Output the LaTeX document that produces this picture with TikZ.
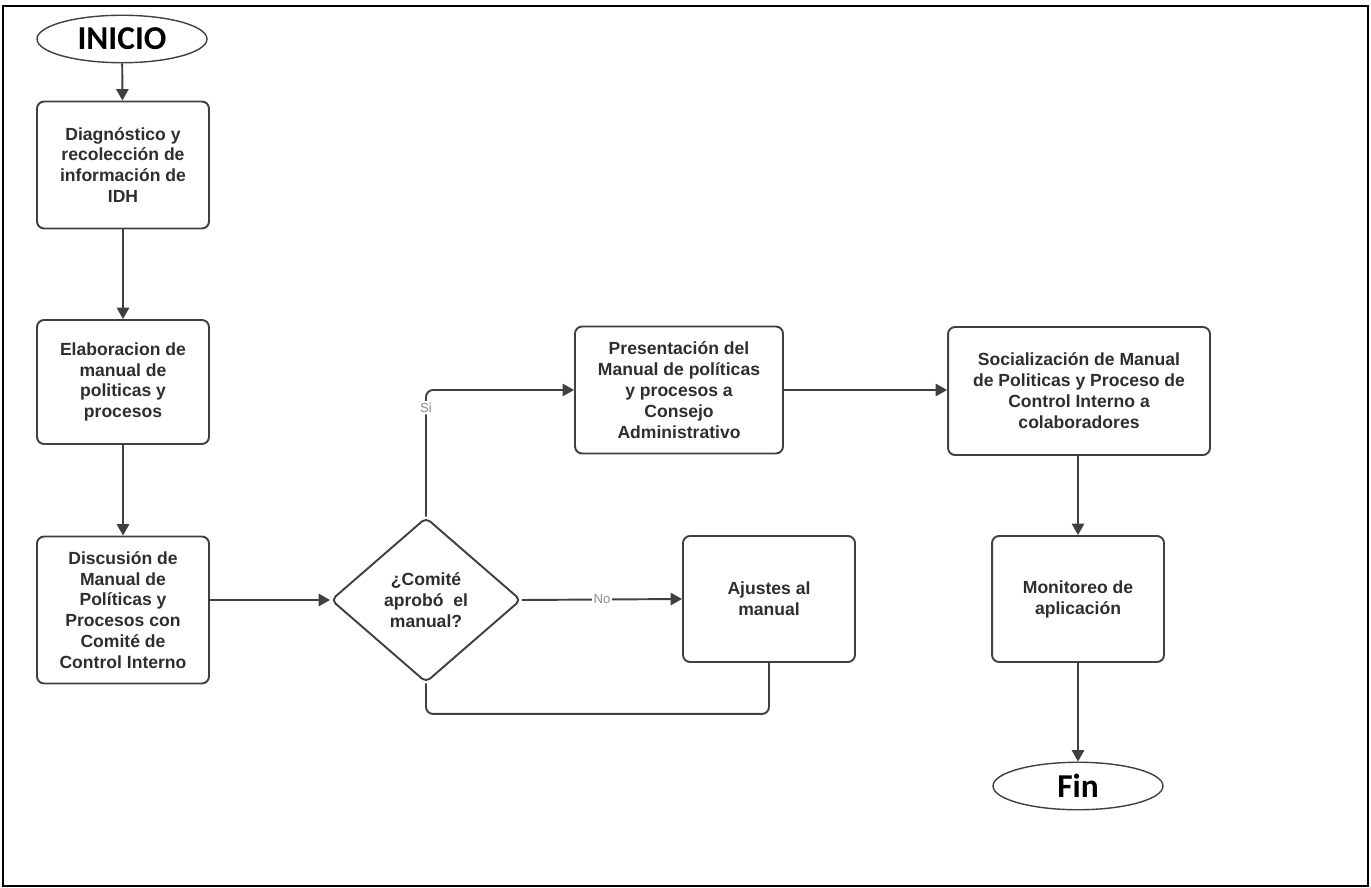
\documentclass[tikz,border=0pt]{standalone}
\usepackage{fontspec}
\setmainfont{Liberation Sans}
\newfontfamily\termfont{Carlito}
\usetikzlibrary{shapes.geometric,arrows.meta}

\definecolor{linegray}{HTML}{404040}
\definecolor{textgray}{HTML}{2E2E2E}
\definecolor{labelgray}{HTML}{8C8C8C}

\tikzset{
  proc/.style={draw=linegray, line width=1.1pt, rounded corners=4pt, align=center,
    font=\bfseries\fontsize{10}{11.9}\selectfont, text=textgray, inner sep=2pt},
  term/.style={draw=linegray, ellipse, line width=0.8pt, inner sep=0pt,
    font=\termfont\bfseries\fontsize{19}{22}\selectfont,
    minimum width=3.4cm, minimum height=0.95cm},
  decision/.style={draw=linegray, diamond, line width=1.1pt, rounded corners=3pt,
    align=center, inner sep=0pt, minimum width=3.8cm, minimum height=3.3cm,
    font=\bfseries\fontsize{10}{11.9}\selectfont, text=textgray},
  flow/.style={draw=linegray, line width=1.1pt, -{Triangle[length=6.5pt,width=7pt]}},
  link/.style={draw=linegray, line width=1.1pt, rounded corners=4pt},
  tag/.style={fill=white, text=labelgray, font=\fontsize{7.5}{8}\selectfont, inner sep=1pt}
}

\begin{document}
\begin{tikzpicture}[x=0.02cm, y=-0.02cm]

  \useasboundingbox (0,0) rectangle (1371,888);
  % Frame
  \draw[line width=1.2pt] (3,6) rectangle (1368,886);

%%%%%%%%%%%%%%%%%%%%%%%%%%%%%%%%%%%%%%%%%%
  % Left column
  \node[term] (inicio) at (122,39) {INICIO};
  \node[proc, minimum width=3.44cm, minimum height=2.54cm] (diag) at (123,165)
    {Diagnóstico y\\recolección de\\información de\\IDH};
  \node[proc, minimum width=3.44cm, minimum height=2.48cm] (elab) at (123,382)
    {Elaboracion de\\manual de\\politicas y\\procesos};
  \node[proc, minimum width=3.44cm, minimum height=2.94cm] (discu) at (123,610)
    {Discusión de\\Manual de\\Políticas y\\Procesos con\\Comité de\\Control Interno};

  % Decision and adjustments
  \node[decision] (aprob) at (426,600) {¿Comité\\aprobó\ \ el\\manual?};
  \node[proc, minimum width=3.44cm, minimum height=2.52cm] (ajuste) at (769,599)
    {Ajustes al\\manual};
  \node[proc, minimum width=4.16cm, minimum height=2.54cm] (present) at (679,390)
    {Presentación del\\Manual de políticas\\y procesos a\\Consejo\\Administrativo};

%%%%%%%%%%%%%%%%%%%%%%%%%%%%%%%%%%%%%%%%%%
  % Right column
  \node[proc, minimum width=5.24cm, minimum height=2.56cm] (social) at (1079,391)
    {Socialización de Manual\\de Politicas y Proceso de\\Control Interno a\\colaboradores};
  \node[proc, minimum width=3.44cm, minimum height=2.52cm] (monit) at (1078,599)
    {Monitoreo de\\aplicación};
  \node[term] (fin) at (1078,786) {Fin};

  % Connectors
  \draw[flow] (inicio) -- (diag);
  \draw[flow] (diag) -- (elab);
  \draw[flow] (elab) -- (discu);
  \draw[flow] (discu.east |- aprob.west) -- (aprob.west);
  \draw[flow, rounded corners=4pt] (aprob.north) |- node[tag, pos=0.43] {Si} (present.west);
  \draw[flow] (aprob.east) -- node[tag] {No} (ajuste.west);
  \draw[link] (ajuste.south) -- ++(0,51) -| (aprob.south);
  \draw[flow] (present.east) -- (social.west |- present.east);
  \draw[flow] (social.south -| monit.north) -- (monit.north);
  \draw[flow] (monit) -- (fin);

\end{tikzpicture}
\end{document}
